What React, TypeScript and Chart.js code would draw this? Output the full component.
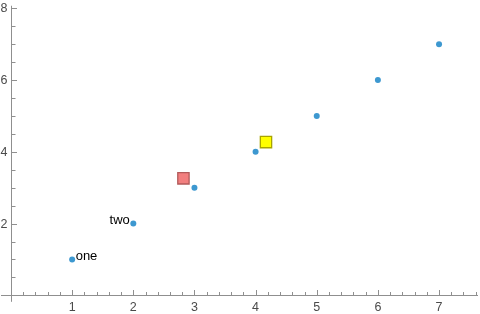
import React, { useEffect, useRef } from "react";
import { Chart, registerables } from "chart.js";

Chart.register(...registerables);

const xValues = [1, 2, 3, 4, 5, 6, 7];
const yValues = [1, 2, 3, 4, 5, 6, 7];
const pointLabels = ["one", "two"];
const redSquare = { x: 2.82, y: 3.26 };
const yellowSquare = { x: 4.17, y: 4.27 };
const xTickLabels = [1, 2, 3, 4, 5, 6, 7];
const yTickLabels = [2, 4, 6, 8];

const axisColor = "#8f8f8f";
const labelColor = "#4a4a4a";
const fontFamily = "'Liberation Sans', Arial, sans-serif";

const axesPlugin = {
  id: "mmaAxes",
  beforeDatasetsDraw(chart: any) {
    const ctx = chart.ctx;
    const xs = chart.scales.x;
    const ys = chart.scales.y;
    const x0 = xs.getPixelForValue(0);
    const y0 = ys.getPixelForValue(0);
    ctx.save();
    ctx.strokeStyle = axisColor;
    ctx.lineWidth = 1;
    // axis lines
    ctx.beginPath();
    ctx.moveTo(chart.chartArea.left + 1, Math.round(y0) + 0.5);
    ctx.lineTo(chart.chartArea.right - 2, Math.round(y0) + 0.5);
    ctx.moveTo(Math.round(x0) + 0.5, ys.getPixelForValue(8.07));
    ctx.lineTo(Math.round(x0) + 0.5, ys.getPixelForValue(-0.18));
    ctx.stroke();
    // x ticks
    ctx.beginPath();
    for (let i = 1; i * 0.2 <= xs.max; i++) {
      const v = i * 0.2;
      const major = i % 5 === 0;
      const px = Math.round(xs.getPixelForValue(v)) + 0.5;
      const len = major ? 5 : 3;
      ctx.moveTo(px, Math.round(y0));
      ctx.lineTo(px, Math.round(y0) - len);
    }
    // y ticks
    for (let i = 1; i * 0.5 <= 8.01; i++) {
      const v = i * 0.5;
      const major = i % 4 === 0;
      const py = Math.round(ys.getPixelForValue(v)) + 0.5;
      const len = major ? 5 : 3.5;
      ctx.moveTo(Math.round(x0) + 1, py);
      ctx.lineTo(Math.round(x0) + 1 + len, py);
    }
    ctx.stroke();
    // tick labels
    ctx.fillStyle = labelColor;
    ctx.font = `12.5px ${fontFamily}`;
    ctx.textAlign = "center";
    ctx.textBaseline = "top";
    xTickLabels.forEach((v) => {
      ctx.fillText(String(v), xs.getPixelForValue(v), y0 + 6);
    });
    ctx.textAlign = "right";
    ctx.textBaseline = "middle";
    yTickLabels.forEach((v) => {
      ctx.fillText(String(v), x0 - 3.5, ys.getPixelForValue(v) + 0.5);
    });
    ctx.restore();
  },
  afterDatasetsDraw(chart: any) {
    const ctx = chart.ctx;
    const xs = chart.scales.x;
    const ys = chart.scales.y;
    ctx.save();
    ctx.fillStyle = "#000";
    ctx.font = `13px ${fontFamily}`;
    ctx.textBaseline = "alphabetic";
    pointLabels.forEach((lab, i) => {
      const px = xs.getPixelForValue(xValues[i]);
      const py = ys.getPixelForValue(yValues[i]);
      if (i === 0) {
        ctx.textAlign = "left";
        ctx.fillText(lab, px + 3.5, py + 1);
      } else {
        ctx.textAlign = "right";
        ctx.fillText(lab, px - 3.5, py);
      }
    });
    ctx.restore();
  },
};

export default function App() {
  const canvasRef = useRef<HTMLCanvasElement | null>(null);
  useEffect(() => {
    document.body.style.margin = "0";
    const canvas = canvasRef.current;
    if (!canvas) return;
    const chart = new Chart(canvas, {
      type: "scatter",
      data: {
        datasets: [
          {
            data: xValues.map((x, i) => ({ x, y: yValues[i] })),
            backgroundColor: "#3d98d0",
            borderColor: "#3d98d0",
            borderWidth: 0,
            pointRadius: 3,
            pointHoverRadius: 3,
          },
          {
            data: [redSquare],
            pointStyle: "rect",
            backgroundColor: "#f27f7f",
            borderColor: "#b25a5a",
            borderWidth: 1.3,
            pointRadius: 8,
          },
          {
            data: [yellowSquare],
            pointStyle: "rect",
            backgroundColor: "#ffff00",
            borderColor: "#a8a400",
            borderWidth: 1.3,
            pointRadius: 8,
          },
        ],
      },
      options: {
        animation: false,
        responsive: false,
        devicePixelRatio: 1,
        layout: { padding: 0, autoPadding: false },
        plugins: { legend: { display: false }, tooltip: { enabled: false } },
        scales: {
          x: { type: "linear", min: -0.18, max: 7.67, display: false },
          y: { type: "linear", min: -0.52, max: 8.23, display: false },
        },
      },
      plugins: [axesPlugin],
    });
    return () => chart.destroy();
  }, []);
  return (
    <div style={{ width: 480, height: 314 }}>
      <canvas ref={canvasRef} width={480} height={314} />
    </div>
  );
}
